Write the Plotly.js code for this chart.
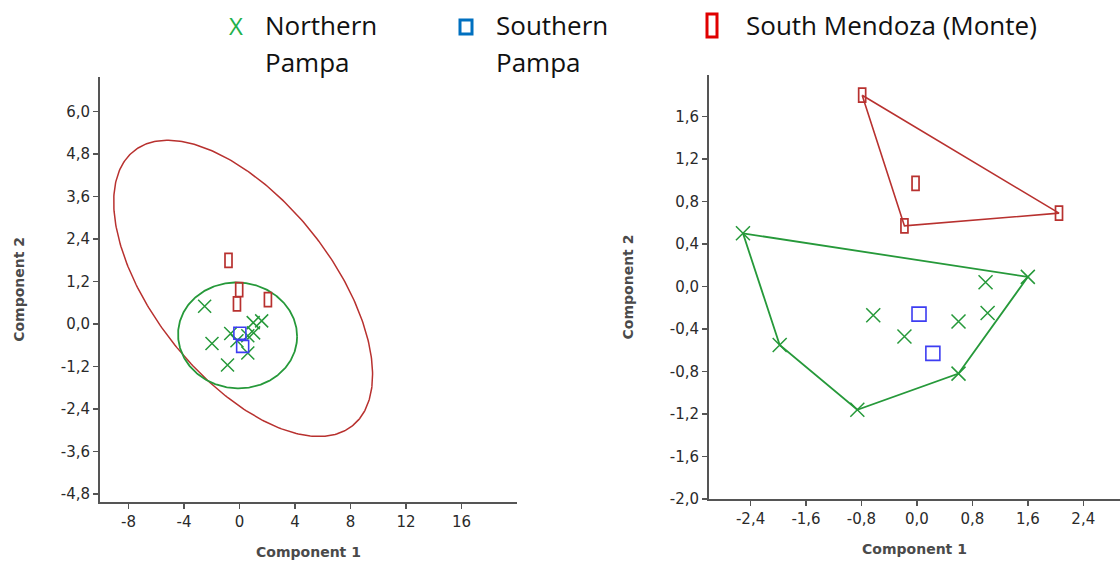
<!DOCTYPE html>
<html><head><meta charset="utf-8">
<script src="https://cdn.plot.ly/plotly-3.0.1.min.js"></script>
<style>html,body{margin:0;padding:0;background:#fff}#chart{width:1120px;height:562px}</style>
</head><body><div id="chart"></div>
<script>
// ---- data ----
const groupNames = ['Northern Pampa', 'Southern Pampa', 'South Mendoza (Monte)'];
const northX = [-2.51, -1.98, -0.86, 0.60, 1.60, 0.99, 1.02, 0.60, -0.63, -0.18];
const northY = [0.50, -0.55, -1.16, -0.82, 0.09, 0.04, -0.25, -0.33, -0.27, -0.47];
const southX = [0.03, 0.23];
const southY = [-0.26, -0.63];
const mendozaX = [-0.79, -0.02, -0.18, 2.05];
const mendozaY = [1.80, 0.97, 0.57, 0.69];
const leftXTicks = [-8, -4, 0, 4, 8, 12, 16];
const leftYTicks = [6.0, 4.8, 3.6, 2.4, 1.2, 0.0, -1.2, -2.4, -3.6, -4.8];
const rightXTicks = [-2.4, -1.6, -0.8, 0.0, 0.8, 1.6, 2.4];
const rightYTicks = [1.6, 1.2, 0.8, 0.4, 0.0, -0.4, -0.8, -1.2, -1.6, -2.0];

// ---- helpers ----
function mean(a){return a.reduce((s,v)=>s+v,0)/a.length;}
function ellipse95(xs, ys){
  const n = xs.length, mx = mean(xs), my = mean(ys);
  let sxx=0, syy=0, sxy=0;
  for(let i=0;i<n;i++){const dx=xs[i]-mx, dy=ys[i]-my; sxx+=dx*dx; syy+=dy*dy; sxy+=dx*dy;}
  sxx/=(n-1); syy/=(n-1); sxy/=(n-1);
  const m = n-2;
  const F = m/2*(Math.pow(0.05, -2/m)-1);
  const k = 2*(n-1)/(n-2)*F;
  const tr = sxx+syy, det = sxx*syy-sxy*sxy;
  const disc = Math.sqrt(Math.max(tr*tr/4-det,0));
  const l1 = tr/2+disc, l2 = tr/2-disc;
  const th = 0.5*Math.atan2(2*sxy, sxx-syy);
  const a = Math.sqrt(k*l1), b = Math.sqrt(k*l2);
  const ex=[], ey=[];
  for(let i=0;i<=360;i++){
    const t = i/360*2*Math.PI;
    ex.push(mx + a*Math.cos(t)*Math.cos(th) - b*Math.sin(t)*Math.sin(th));
    ey.push(my + a*Math.cos(t)*Math.sin(th) + b*Math.sin(t)*Math.cos(th));
  }
  return {x:ex, y:ey};
}
function hull(xs, ys){
  const p = xs.map((x,i)=>[x,ys[i]]).sort((a,b)=>a[0]-b[0]||a[1]-b[1]);
  const cross=(o,a,b)=>(a[0]-o[0])*(b[1]-o[1])-(a[1]-o[1])*(b[0]-o[0]);
  const lo=[], up=[];
  for(const q of p){while(lo.length>=2&&cross(lo[lo.length-2],lo[lo.length-1],q)<=0)lo.pop();lo.push(q);}
  for(let i=p.length-1;i>=0;i--){const q=p[i];while(up.length>=2&&cross(up[up.length-2],up[up.length-1],q)<=0)up.pop();up.push(q);}
  const h = lo.slice(0,-1).concat(up.slice(0,-1));
  h.push(h[0]);
  return {x:h.map(q=>q[0]), y:h.map(q=>q[1])};
}
const fmt1 = v => v.toFixed(1).replace('.', ',');

const GREEN = '#26993a', BLUE = '#3d3df2', RED = '#b8312f';
const eN = ellipse95(northX, northY), eM = ellipse95(mendozaX, mendozaY);
const hN = hull(northX, northY), hM = hull(mendozaX, mendozaY);

function pts(ax){
  const xa = ax===1?'x':'x2', ya = ax===1?'y':'y2';
  const big = ax===2;
  return [
    {x:northX, y:northY, xaxis:xa, yaxis:ya, type:'scatter', mode:'markers', name:groupNames[0],
     marker:{symbol:'x-thin-open', size:big?14:13, color:GREEN, line:{color:GREEN, width:1.5}}},
    {x:southX, y:southY, xaxis:xa, yaxis:ya, type:'scatter', mode:'markers', name:groupNames[1],
     marker:{symbol:'square-open', size:big?14:12, color:BLUE, line:{color:BLUE, width:1.6}}}
  ];
}
// tall open rectangles for South Mendoza, anchored at each data point (fixed pixel size)
function rectMarks(xa, ya){
  return mendozaX.map((x,i)=>({type:'rect', xref:xa, yref:ya,
    xsizemode:'pixel', xanchor:x, x0:-3.5, x1:3.5,
    ysizemode:'pixel', yanchor:mendozaY[i], y0:-7, y1:7,
    line:{color:RED, width:1.7}, fillcolor:'rgba(0,0,0,0)', layer:'above'}));
}

const traces = [
  {x:eM.x, y:eM.y, xaxis:'x', yaxis:'y', type:'scatter', mode:'lines', line:{color:RED, width:1.5}, hoverinfo:'skip'},
  {x:eN.x, y:eN.y, xaxis:'x', yaxis:'y', type:'scatter', mode:'lines', line:{color:GREEN, width:1.8}, hoverinfo:'skip'},
  ...pts(1),
  {x:hN.x, y:hN.y, xaxis:'x2', yaxis:'y2', type:'scatter', mode:'lines', line:{color:GREEN, width:1.8}, hoverinfo:'skip'},
  {x:hM.x, y:hM.y, xaxis:'x2', yaxis:'y2', type:'scatter', mode:'lines', line:{color:RED, width:1.6}, hoverinfo:'skip'},
  ...pts(2),
  {x:mendozaX, y:mendozaY, xaxis:'x', yaxis:'y', type:'scatter', mode:'markers', name:groupNames[2],
   marker:{size:1, opacity:0}, hoverinfo:'skip'},
  {x:mendozaX, y:mendozaY, xaxis:'x2', yaxis:'y2', type:'scatter', mode:'markers', name:groupNames[2],
   marker:{size:1, opacity:0}, hoverinfo:'skip'}
];

const tickFont = {family:'DejaVu Sans, sans-serif', size:15, color:'#2a2a2a'};
const axBase = {showgrid:false, zeroline:false, showline:true, linecolor:'#555', linewidth:2,
  ticks:'outside', ticklen:5, tickwidth:1.5, tickcolor:'#555',
  tickfont:tickFont, fixedrange:true, automargin:false};
const titleFont = {family:'DejaVu Sans, sans-serif', size:14, color:'#4a4a4a', weight:'bold'};
const legFont = {family:'Open Sans, sans-serif', size:26, color:'#111'};

const W = 1120, H = 562;
const layout = {
  width:W, height:H, margin:{l:0,r:0,t:0,b:0}, showlegend:false,
  paper_bgcolor:'#fff', plot_bgcolor:'#fff', separators:',.',
  xaxis:Object.assign({}, axBase, {domain:[100/W, 517/W], range:[-10.05, 20.0], anchor:'y',
    tickvals:leftXTicks, ticktext:leftXTicks.map(String),
    title:{text:'Component 1', font:titleFont, standoff:17}}),
  yaxis:Object.assign({}, axBase, {domain:[1-501.7/H, 1-77/H], range:[-5.02, 6.98], anchor:'x',
    tickvals:leftYTicks, ticktext:leftYTicks.map(fmt1),
    title:{text:'Component 2', font:titleFont, standoff:33}}),
  xaxis2:Object.assign({}, axBase, {domain:[709/W, 1], range:[-3.0, 2.93], anchor:'y2',
    tickvals:rightXTicks, ticktext:rightXTicks.map(fmt1),
    title:{text:'Component 1', font:titleFont, standoff:17}}),
  yaxis2:Object.assign({}, axBase, {domain:[1-499/H, 1-75/H], range:[-2.0, 1.99], anchor:'x2',
    tickvals:rightYTicks, ticktext:rightYTicks.map(fmt1),
    title:{text:'Component 2', font:titleFont, standoff:33}}),
  annotations:[
    {xref:'paper', yref:'paper', x:236/W, y:1-25/H, xanchor:'center', yanchor:'middle', showarrow:false,
     text:'X', font:{family:'Open Sans, sans-serif', size:24, color:'#22b14c'}},
    {xref:'paper', yref:'paper', x:263/W, y:1-25/H, xanchor:'left', yanchor:'middle', showarrow:false, text:'Northern', font:legFont},
    {xref:'paper', yref:'paper', x:263/W, y:1-62/H, xanchor:'left', yanchor:'middle', showarrow:false, text:'Pampa', font:legFont},
    {xref:'paper', yref:'paper', x:494/W, y:1-25/H, xanchor:'left', yanchor:'middle', showarrow:false, text:'Southern', font:legFont},
    {xref:'paper', yref:'paper', x:494/W, y:1-62/H, xanchor:'left', yanchor:'middle', showarrow:false, text:'Pampa', font:legFont},
    {xref:'paper', yref:'paper', x:744/W, y:1-25/H, xanchor:'left', yanchor:'middle', showarrow:false, text:'South Mendoza (Monte)', font:legFont}
  ],
  shapes:[
    {type:'rect', xref:'paper', yref:'paper', x0:460/W, x1:472/W, y0:1-34/H, y1:1-20/H,
     line:{color:'#0070c0', width:3}},
    {type:'rect', xref:'paper', yref:'paper', x0:707/W, x1:717/W, y0:1-37/H, y1:1-14/H,
     line:{color:'#e00000', width:3}},
    ...rectMarks('x','y'),
    ...rectMarks('x2','y2')
  ]
};
Plotly.newPlot('chart', traces, layout, {displayModeBar:false, staticPlot:true});
</script></body></html>
